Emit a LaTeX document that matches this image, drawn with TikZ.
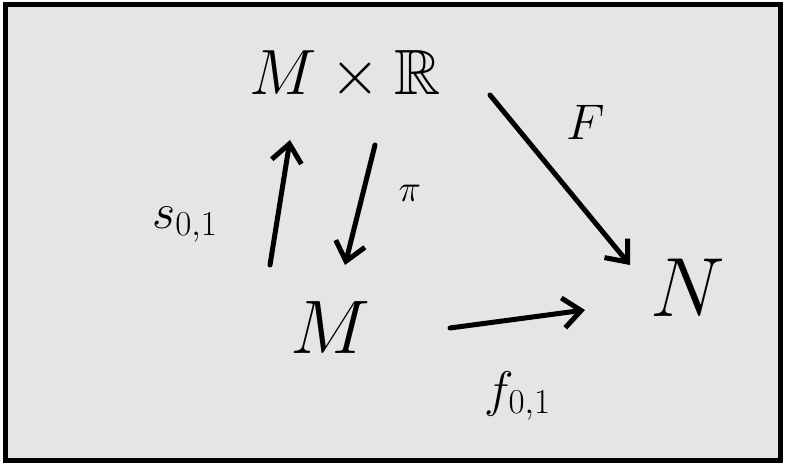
\RequirePackage{fix-cm}
\documentclass[tikz,border=0pt]{standalone}
\usepackage{amssymb}
\usepackage{tikz}
\usetikzlibrary{arrows.meta,positioning,calc}

\begin{document}
\begin{tikzpicture}[
  x=1pt,y=1pt,
  obj/.style={inner sep=0pt,font=\fontsize{64}{70}\selectfont},
  lbl/.style={inner sep=0pt,font=\fontsize{50}{56}\selectfont},
  map/.style={-{Straight Barb[length=18pt,width=30pt,line width=5pt]},line width=5pt,line cap=round}
]
\useasboundingbox (0,0) rectangle (785,466);
\draw[line width=5pt,fill=black!10] (5,5) rectangle (780,461);
\node[obj] (prod) at (345,391) {$M\times\mathbb{R}$};
\node[obj,font=\fontsize{76}{80}\selectfont] (m) at (330,138) {$M$};
\node[obj,font=\fontsize{84}{90}\selectfont] (n) at (688,178) {$N$};
\draw[map] ($(m.center)+(-60,63)$) -- node[lbl,left=60pt,yshift=-22pt] (s) {$s_{0,1}$} ($(prod.center)+(-55,-65)$);
\draw[map] ($(prod.center)+(30,-70)$) -- node[lbl,right=36pt,yshift=12pt,font=\fontsize{38}{44}\selectfont] (pi) {$\pi$} ($(m.center)+(15,63)$);
\draw[map] ($(prod.center)+(145,-20)$) -- node[lbl,above right=38pt and 4pt] (F) {$F$} ($(n.center)+(-58,23)$);
\draw[map] ($(m.center)+(120,0)$) -- node[lbl,below=50pt] (f) {$f_{0,1}$} ($(n.center)+(-103,-22)$);
\end{tikzpicture}
\end{document}
